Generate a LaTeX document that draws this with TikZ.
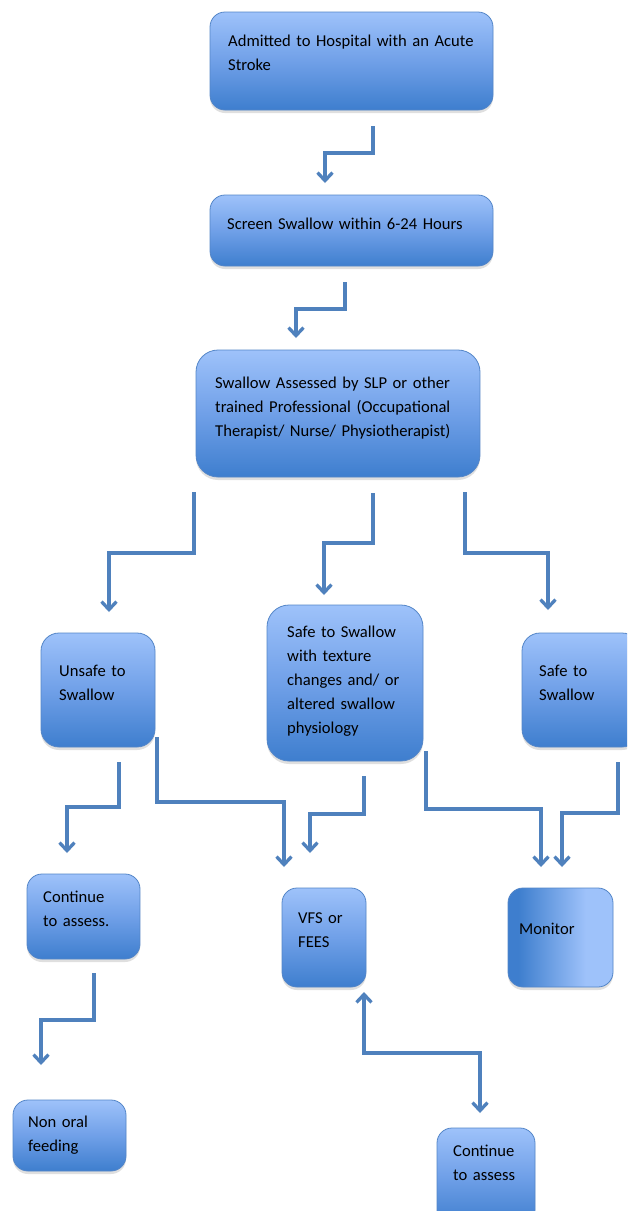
\documentclass[tikz,border=0pt]{standalone}
\usepackage{fontspec}
\setmainfont{Carlito}
\usetikzlibrary{arrows.meta,shadows}
\definecolor{bdark}{RGB}{62,126,206}
\definecolor{bmid}{RGB}{112,160,232}
\definecolor{blight}{RGB}{158,194,250}
\definecolor{bborder}{RGB}{84,134,200}
\definecolor{arrc}{RGB}{79,129,189}
\pgfdeclareverticalshading{boxshade}{100bp}{color(0bp)=(bdark); color(25bp)=(bdark); color(50bp)=(bmid); color(75bp)=(blight); color(100bp)=(blight)}
\pgfdeclarehorizontalshading{monshade}{100bp}{color(0bp)=(bdark); color(30bp)=(bdark); color(62bp)=(blight); color(100bp)=(blight)}
\tikzset{
  box/.style={draw=bborder, line width=0.8pt, shading=boxshade, rounded corners=15pt, inner sep=0pt,
    drop shadow={shadow xshift=0pt, shadow yshift=-3pt, opacity=0.25}},
  bigbox/.style={box, rounded corners=22pt},
  txt/.style={anchor=base west, inner sep=0pt, text width=#1, align=left,
    font=\fontsize{16.6}{24}\selectfont},
  arr/.style={draw=arrc, line width=3.3pt, -{Straight Barb[length=8pt,width=15pt]}},
  darr/.style={draw=arrc, line width=3.3pt, {Straight Barb[length=8pt,width=15pt]}-{Straight Barb[length=8pt,width=15pt]}}
}
\begin{document}
\begin{tikzpicture}[x=1pt,y=-1pt]
\clip (0,0) rectangle (627,1211);
\fill[white] (0,0) rectangle (627,1211);
% boxes
\node[box, minimum width=283pt, minimum height=98pt] (b1) at (351.5,61) {};
\node[box, minimum width=283pt, minimum height=71pt] (b2) at (351.5,230.5) {};
\node[bigbox, minimum width=284pt, minimum height=127pt] (b3) at (338,413.5) {};
\node[box, rounded corners=18pt, minimum width=114pt, minimum height=114pt] (b4) at (98,690) {};
\node[bigbox, minimum width=156pt, minimum height=156pt] (b5) at (345,683) {};
\node[box, rounded corners=18pt, minimum width=118pt, minimum height=114pt] (b6) at (581,690) {};
\node[box, minimum width=113pt, minimum height=85pt] (b7) at (83.5,916.5) {};
\node[box, minimum width=84pt, minimum height=99pt] (b8) at (324,937.5) {};
\node[box, shading=monshade, minimum width=105pt, minimum height=99pt] (b9) at (560.5,937.5) {};
\node[box, minimum width=113pt, minimum height=71pt] (b10) at (69.5,1135.5) {};
\node[box, minimum width=98pt, minimum height=97pt] (b11) at (486,1176.5) {};
% texts
\node[txt=270pt] (t1) at (228,46) {Admitted to Hospital with an Acute\\Stroke};
\node[txt=270pt] (t2) at (227,229) {Screen Swallow within 6-24 Hours};
\node[txt=270pt] (t3) at (215,388) {Swallow Assessed by SLP or other\\trained Professional (Occupational\\Therapist/ Nurse/ Physiotherapist)};
\node[txt=90pt] (t4) at (59,676) {Unsafe to\\Swallow};
\node[txt=135pt] (t5) at (287,637) {Safe to Swallow\\with texture\\changes and/ or\\altered swallow\\physiology};
\node[txt=90pt] (t6) at (539,676) {Safe to\\Swallow};
\node[txt=90pt] (t7) at (43,902) {Continue\\to assess.};
\node[txt=60pt] (t8) at (298,923) {VFS or\\FEES};
\node[txt=80pt] (t9) at (519,934) {Monitor};
\node[txt=90pt] (t10) at (28,1127) {Non oral\\feeding};
\node[txt=80pt] (t11) at (453,1156) {Continue\\to assess};
% connector end points
\coordinate (s1) at (373,126);  \coordinate (e1) at (325,183);
\coordinate (s2) at (345,282);  \coordinate (e2) at (296,338);
\coordinate (s3) at (194,492);  \coordinate (e3) at (109,612);
\coordinate (s4) at (373,493);  \coordinate (e4) at (324,595);
\coordinate (s5) at (465,492);  \coordinate (e5) at (548,610);
\coordinate (s6) at (119,762);  \coordinate (e6) at (67,853);
\coordinate (s7) at (157,737);  \coordinate (e7) at (284,867);
\coordinate (s8) at (364,776);  \coordinate (e8) at (310,853);
\coordinate (s9) at (426,751);  \coordinate (e9) at (541,867);
\coordinate (s10) at (618,762); \coordinate (e10) at (562,867);
\coordinate (s11) at (94,973);  \coordinate (e11) at (41,1065);
\coordinate (s12) at (364,992); \coordinate (e12) at (480,1113);
% connectors
\draw[arr] (s1) -- ++(0,27) -| (e1);
\draw[arr] (s2) -- ++(0,27) -| (e2);
\draw[arr] (s3) -- ++(0,61) -| (e3);
\draw[arr] (s4) -- ++(0,50) -| (e4);
\draw[arr] (s5) -- ++(0,61) -| (e5);
\draw[arr] (s6) -- ++(0,45) -| (e6);
\draw[arr] (s7) -- ++(0,65) -| (e7);
\draw[arr] (s8) -- ++(0,38) -| (e8);
\draw[arr] (s9) -- ++(0,58) -| (e9);
\draw[arr] (s10) -- ++(0,51) -| (e10);
\draw[arr] (s11) -- ++(0,47) -| (e11);
\draw[darr] (s12) -- ++(0,61) -| (e12);
\end{tikzpicture}
\end{document}
